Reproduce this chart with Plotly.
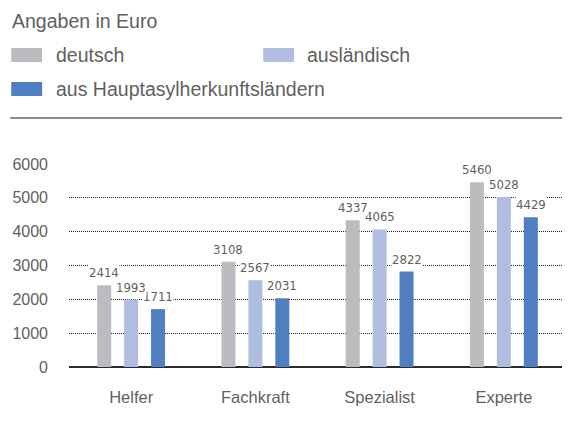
import plotly.graph_objects as go

categories = ["Helfer", "Fachkraft", "Spezialist", "Experte"]
series_names = ["deutsch", "ausländisch", "aus Hauptasylherkunftsländern"]
deutsch = [2414, 3108, 4337, 5460]
auslaendisch = [1993, 2567, 4065, 5028]
hauptasyl = [1711, 2031, 2822, 4429]
y_ticks = [0, 1000, 2000, 3000, 4000, 5000, 6000]
title_text = "Angaben in Euro"

colors = ["#BBBCC0", "#AEBDE0", "#4F7FC1"]
series = [deutsch, auslaendisch, hauptasyl]

# page body has an 8px margin; the figure is sized to fit the window
OFF = 8
W, H = 570 - OFF, 432 - OFF
L, R, T, B = 67 - OFF, 4, 164 - OFF, 65
PW, PH = W - L - R, H - T - B

def px(x):  # window pixel -> paper
    return (x - OFF - L) / PW

def py(y):
    return (H - B - (y - OFF)) / PH

fig = go.Figure()
for name, vals, c in zip(series_names, series, colors):
    fig.add_trace(go.Bar(x=categories, y=vals, name=name, marker_color=c,
                         marker_line_width=0, showlegend=False))

txt_col = "#5f5f5f"
offsets = [-27, 0, 27]
# draw right-most series first so higher labels sit on top of lower neighbours
for vals, off in reversed(list(zip(series, offsets))):
    for cat, v in zip(categories, vals):
        fig.add_annotation(x=cat, y=v, xref="x", yref="y", text=str(v),
                           showarrow=False, xshift=off, yanchor="bottom", yshift=4,
                           bgcolor="white", borderpad=0,
                           font=dict(family="DejaVu Sans Condensed, sans-serif",
                                     size=13, color=txt_col))

main_font = "Liberation Sans, Arial, sans-serif"
# title
fig.add_annotation(x=px(8), y=py(21), xref="paper", yref="paper", text=title_text,
                   showarrow=False, xanchor="left", yanchor="middle",
                   font=dict(family=main_font, size=19.5, color=txt_col))
# legend
leg = [(9, 48, 52), (262, 48, 304), (9, 82, 52)]
for (lx, ly, tx), name, c in zip(leg, series_names, colors):
    fig.add_shape(type="rect", xref="paper", yref="paper",
                  x0=px(lx), x1=px(lx + 31), y0=py(ly), y1=py(ly + 14),
                  fillcolor=c, line_width=0)
    fig.add_annotation(x=px(tx), y=py(ly + 7), xref="paper", yref="paper", text=name,
                       showarrow=False, xanchor="left", yanchor="middle",
                       font=dict(family=main_font, size=19.5, color=txt_col))
# separator rule
fig.add_shape(type="line", xref="paper", yref="paper", x0=px(8), x1=px(566),
              y0=py(118), y1=py(118), line=dict(color="#8a8a8a", width=2))

fig.update_layout(
    width=W, height=H, margin=dict(l=L, r=R, t=T, b=B),
    paper_bgcolor="white", plot_bgcolor="white",
    barmode="group", bargap=0.35, bargroupgap=0.48,
    font=dict(family=main_font, color=txt_col),
)
fig.update_xaxes(showgrid=False, showline=False, zeroline=False, ticks="",
                 tickfont=dict(size=16.5, color=txt_col), ticklabelstandoff=18)
fig.update_yaxes(range=[0, 6000], tickvals=y_ticks, showgrid=True,
                 gridcolor="#1e1e1e", griddash="1px,1px", gridwidth=1,
                 zeroline=True, zerolinecolor="#2a2a2a", zerolinewidth=2,
                 showline=False, ticks="", tickfont=dict(size=16, color=txt_col),
                 ticklabelstandoff=20)

fig.write_html("out.html")
